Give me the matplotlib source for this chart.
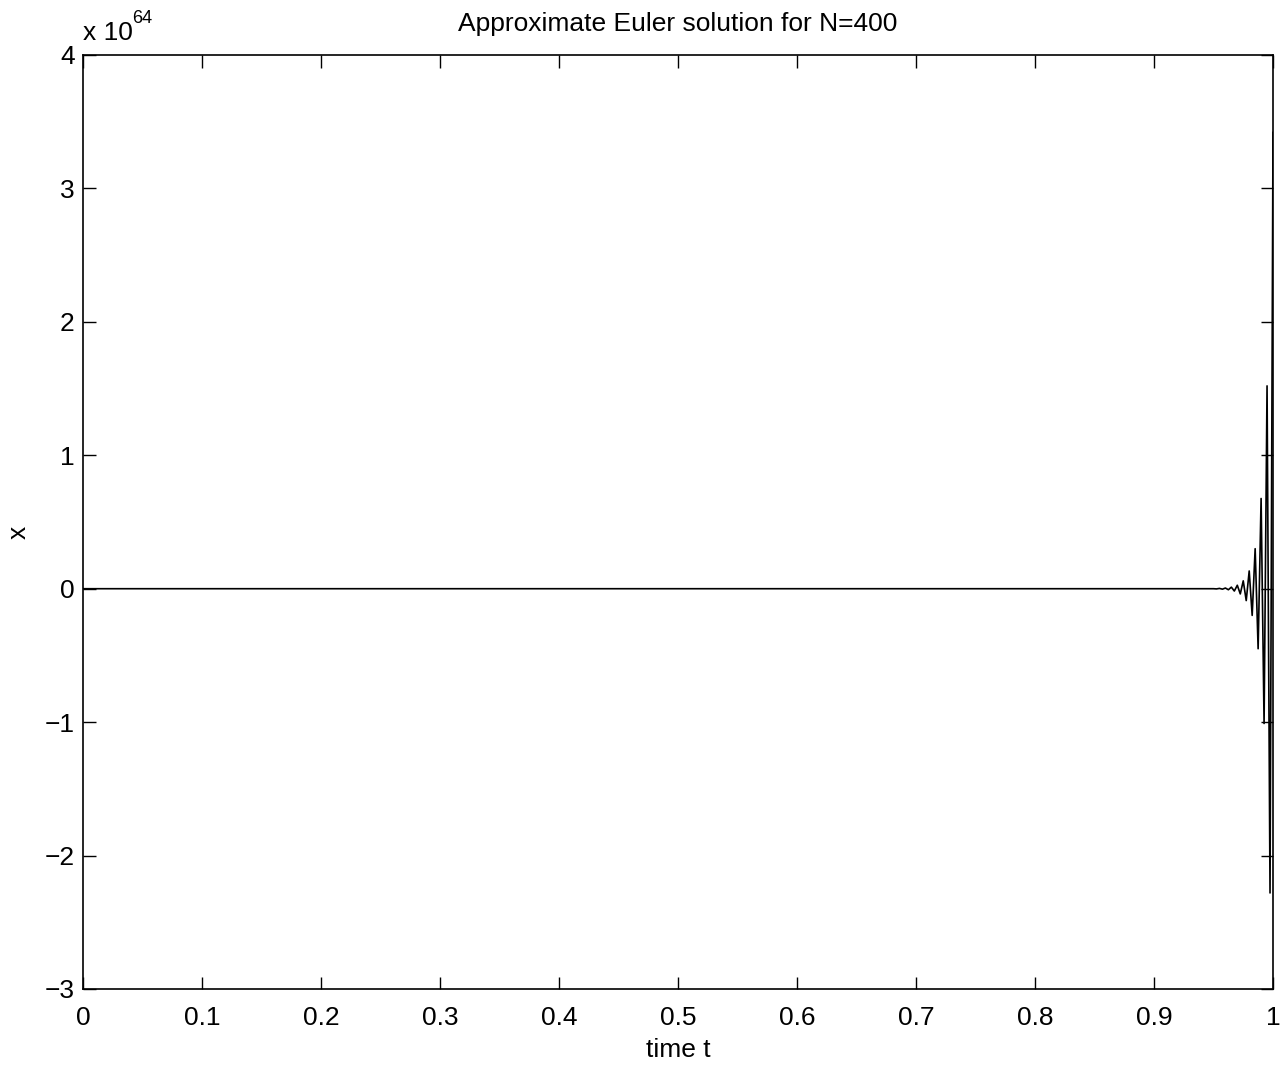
import numpy as np
import matplotlib
matplotlib.use("Agg")
import matplotlib.pyplot as plt
from matplotlib.ticker import FixedLocator, FuncFormatter

plt.rcParams['font.family'] = ['Liberation Sans', 'DejaVu Sans']

# Data (values in units of 1e64)
N = 400
t = np.linspace(0.0, 1.0, N + 1)
tail = [-0.0015, 0.0023, -0.0034, 0.0051, -0.0077, 0.0116, -0.0174, 0.026,
        -0.039, 0.059, -0.089, 0.133, -0.200, 0.300, -0.450, 0.676,
        -1.01, 1.52, -2.28, 3.42]
x_vals = [0.0] * (N + 1 - len(tail)) + tail
xticks = [0, 0.1, 0.2, 0.3, 0.4, 0.5, 0.6, 0.7, 0.8, 0.9, 1]
xticklabels = ["0", "0.1", "0.2", "0.3", "0.4", "0.5", "0.6", "0.7", "0.8", "0.9", "1"]
yticks = [-3, -2, -1, 0, 1, 2, 3, 4]

W, H = 1288, 1065
fig = plt.figure(figsize=(W/100, H/100), dpi=100)
ax = fig.add_axes([83/W, 1 - 989/H, (1273-83)/W, (989-55)/H])
ax.plot(t, x_vals, color='black', lw=1.2)
ax.set_xlim(0, 1)
ax.set_ylim(-3, 4)
ax.xaxis.set_major_locator(FixedLocator(xticks))
ax.set_xticklabels(xticklabels)
ax.yaxis.set_major_locator(FixedLocator(yticks))
ax.yaxis.set_major_formatter(FuncFormatter(lambda v, p: f"{int(v)}".replace('-', '\u2212')))
ax.tick_params(direction='in', length=9, width=1.0, top=True, right=True,
               labelsize=19, color='black')
ax.tick_params(axis='x', pad=12)
ax.tick_params(axis='y', pad=6)
for s in ax.spines.values():
    s.set_linewidth(1.2)
ax.set_xlabel("time t", fontsize=19, labelpad=6)
ax.set_ylabel("x", fontsize=19)
ax.yaxis.set_label_coords(19/W, 0.5, transform=fig.transFigure)
ax.yaxis.label.set_va('center')
ax.set_title("Approximate Euler solution for N=400", fontsize=19, pad=17)
fig.text(83/W, 1 - 40/H, "x 10", fontsize=19, ha='left', va='baseline')
fig.text(132/W, 1 - 23/H, "64", fontsize=13, ha='left', va='baseline')
fig.savefig("out.png", dpi=100)
